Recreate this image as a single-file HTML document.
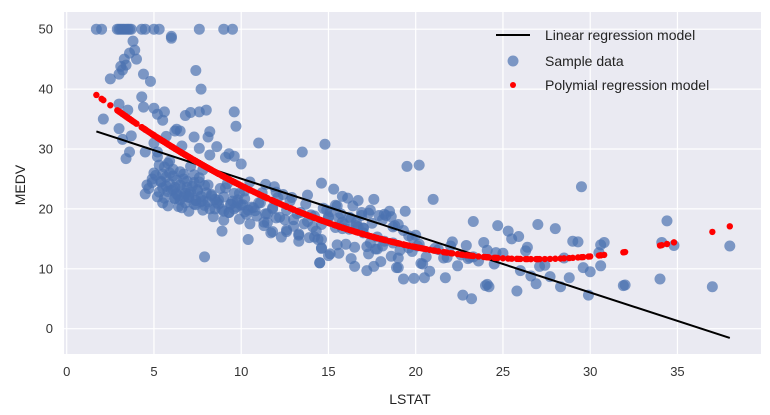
<!DOCTYPE html>
<html><head><meta charset="utf-8">
<style>
body{margin:0;background:#fff;}
svg{display:block;font-family:"Liberation Sans",sans-serif;}
</style></head>
<body>
<svg id="chart" width="770" height="415" viewBox="0 0 770 415" xmlns="http://www.w3.org/2000/svg">
<rect x="64" y="12" width="697" height="342" fill="#eaeaf2"/>
<g id="grid"></g>
<g id="ticks"></g>
<g id="points"></g>
<g id="fit"></g>
<g id="legend">
<line x1="496" y1="35" x2="530" y2="35" stroke="#000" stroke-width="2"/>
<text x="545" y="40" font-size="14" fill="#222">Linear regression model</text>
<circle cx="513" cy="61" r="5.5" fill="#4c72b0" fill-opacity="0.7"/>
<text x="545" y="66" font-size="14" fill="#222">Sample data</text>
<circle cx="513" cy="85" r="3" fill="#ff0000"/>
<text x="545" y="90" font-size="14" fill="#222">Polymial regression model</text>
</g>
<text x="410" y="404" font-size="14" text-anchor="middle" fill="#222">LSTAT</text>
<text x="25" y="185" font-size="14" text-anchor="middle" fill="#222" transform="rotate(-90 25 185)">MEDV</text>
</svg>
<script>
const xTicks=[0,5,10,15,20,25,30,35];
const yTicks=[0,10,20,30,40,50];
const lstat=[1.7,2.0,2.9,3.0,3.1,3.2,3.3,3.4,3.5,3.6,3.7,4.3,4.5,5.0,5.3,6.0,7.6,9.0,9.5,
6.0,3.8,3.9,3.6,3.3,3.4,3.1,4.0,4.4,2.5,3.2,3.0,4.8,4.3,7.4,7.7,
2.1,3.0,3.5,4.4,5.0,5.2,5.5,5.6,6.3,6.5,6.8,7.1,7.6,8.0,8.2,9.6,9.7,
3.0,3.2,3.7,3.6,3.4,4.5,5.0,5.2,5.7,6.2,6.6,7.3,7.6,8.1,8.2,8.6,9.1,9.3,9.6,10.0,
4.5,4.7,4.9,5.1,5.3,5.4,5.5,5.6,5.7,5.8,5.9,6.0,6.1,6.2,6.3,6.4,6.5,6.6,6.7,6.8,6.9,7.0,7.1,7.2,7.3,7.4,7.5,7.6,7.7,7.8,7.9,8.0,
5.0,5.3,5.6,5.9,6.2,6.5,6.8,7.0,7.3,7.6,7.9,8.3,8.5,8.7,8.9,9.1,9.3,9.5,9.7,9.9,10.1,10.3,10.5,10.7,10.9,11.1,
5.2,5.5,5.8,6.1,6.4,6.7,7.0,7.4,7.8,8.1,8.4,8.7,9.0,9.3,9.6,9.9,10.2,10.5,10.8,11.2,11.5,11.8,12.1,
7.9,8.9,10.4,11.5,12.0,12.3,12.6,13.0,13.3,13.5,13.8,14.1,14.4,14.6,14.8,15.1,15.3,15.6,15.9,16.1,16.4,16.7,17.0,17.3,17.6,17.9,18.2,18.5,18.8,
11.0,11.4,11.9,12.4,12.8,13.2,13.6,14.0,14.3,14.7,15.0,15.4,15.8,16.2,16.6,17.0,17.4,17.8,18.2,18.6,19.0,19.4,19.8,20.2,
11.3,11.8,12.5,13.3,14.5,14.6,15.0,15.5,16.0,16.5,16.9,17.3,17.8,18.3,18.7,19.1,19.6,20.1,20.6,21.1,21.6,22.1,22.6,23.1,23.6,24.1,24.6,
11.3,11.7,12.6,13.3,14.2,14.6,13.9,16.5,17.2,18.0,19.0,19.8,19.5,21.0,20.5,22.0,23.2,24.2,
14.5,15.1,15.5,16.7,17.2,17.7,18.1,18.6,19.9,20.3,20.8,21.3,21.8,22.4,23.0,24.0,24.5,25.0,25.5,26.0,26.6,27.1,27.7,28.3,28.8,29.5,30.0,30.5,
14.6,15.6,16.3,17.6,18.9,19.3,19.6,20.2,21.7,22.9,23.3,23.9,24.7,25.3,25.9,26.3,26.9,27.4,28.0,29.0,29.6,29.9,30.6,30.8,31.9,34.0,34.4,34.8,37.0,38.0,
15.8,17.4,19.0,20.4,22.7,23.3,24.1,25.8,26.4,27.0,28.5,29.3,30.6,32.0,34.1,
4.6,4.9,5.2,5.4,5.7,5.9,6.1,6.3,6.5,6.7,6.9,7.1,7.3,7.5,7.7,8.1,8.3,8.5,8.8,9.0,9.2,9.4,9.6,9.8,10.0,10.2,10.4,
5.5,5.8,6.2,6.6,7.0,7.4,7.8,8.2,8.6,9.0,9.4,9.8,10.2,10.6,11.0,11.4,11.8,12.2,12.6,13.0,13.4,13.8,14.2,14.6,15.0,15.4,15.8,16.2,16.6,17.0,
12.0,12.9,13.7,14.9,15.7,16.3,16.9,17.5,18.1,18.7,19.3,20.0];
const medv=[50,50,50,50,50,50,50,50,50,50,50,50,50,50,50,48.8,50,50,50,
48.5,48,46.5,46,45,44,43.8,45,42.5,41.7,43.2,42.5,41.3,38.7,43.1,40,
35,37.5,36.5,37,36.8,35.8,34.8,36.2,33.3,33,35.6,36.1,36.2,36.5,32.9,36.2,33.8,
33.4,31.6,32.2,29.5,28.4,29.5,31,29.5,32.1,33,30.5,32,30.1,32,29,30.4,28.6,29.2,28.8,27.5,
22.5,23.4,24.4,25.6,22.8,24.5,23.5,21.8,25.3,22.9,24.2,23.1,26.6,21.7,24.8,22.2,26.2,23.3,25,22.6,24.6,21.9,27.1,23.8,25.7,21.4,23,24.5,22.1,26.5,20.6,22.7,
26,27.3,27,28,23.6,21.5,21,22.4,20.8,25.2,23.9,22.2,20,21.5,19.9,23.5,19.4,21.3,20.3,22.6,20.7,19.1,24.5,20.2,18.8,21,
28.7,25.8,27.6,23.2,20.4,22,19.6,21.4,19.8,21.2,18.7,20.8,18.1,19.4,20,18.3,21.7,17.5,19.7,22.7,17.7,20.2,21.9,
12,16.3,14.9,19.2,18.5,15.3,16.5,17.1,15.6,29.5,22.3,17,14.9,24.3,30.8,19.5,23.3,18.5,17.4,21.8,20.5,17,16.8,19.3,21.6,18.9,19.1,19.6,17.2,
31,24.1,23.7,22.4,21.3,19.2,17.5,19,16.3,20.1,18.7,20.6,16.7,18.6,17.8,16.8,19.8,15.3,14.6,18.7,17.4,19.6,15.2,27.3,
17.8,16.2,18.2,15.8,11,13.4,12.2,20.5,14.1,13.6,19.4,12.5,13.3,18.9,14.3,13.1,15.5,13.8,12,13.4,11.8,14.5,12.3,11.9,11.3,13.1,12.7,
17.2,16,16.2,14.6,15.3,14.9,15.2,10.4,13.7,11.2,10.2,12.9,27.1,21.6,8.5,13.8,5,7,
11,12.5,14,21.4,9.7,13.3,13.8,12.1,8.4,10.9,9.6,13.2,11.9,10.5,11.7,7.2,10.8,12.6,15,9.7,8.8,10.4,8.7,7,8.5,23.7,9.5,12.7,
13.5,12.6,11.7,10.4,10.2,8.3,13.5,14.1,8.5,13.9,17.9,14.4,17.2,16.3,15.4,13,7.5,10.6,16.7,14.6,10.2,5.6,10.5,14.4,7.2,8.3,18,13.9,7,13.8,
22.1,14.3,11.8,10.8,5.6,12,7.4,6.3,13.6,17.4,11.8,14.5,14,7.3,14.4,
24,25,22,24.6,23.8,26,25.5,22.5,24,25.8,23.6,22.8,24.4,23.2,21.2,24,22.4,21.6,23.4,22,24.2,20.8,22.6,21,20.6,23,19.8,
21,20.5,21.8,20.2,22,20.7,21.4,20,21.1,19.6,20.8,21.5,19.5,20.3,21,19.2,20,18.6,19.8,18.2,19.4,17.9,18.8,17.4,18.5,16.9,17.8,16.6,17.2,16,
22.8,21.9,20.8,19.8,19.2,18.4,18.9,17.6,18.2,17,16.4,15.6];
const linCoef=[34.55,-0.95];
const polyCoef=[42.86,-2.333,0.04355];

const NS='http://www.w3.org/2000/svg';
const X0=66.7,XS=17.45,Y0=328.7,YS=5.99;
const xs=v=>X0+v*XS, ys=v=>Y0-v*YS;
function mk(tag,attrs,parent){const e=document.createElementNS(NS,tag);for(const k in attrs)e.setAttribute(k,attrs[k]);parent.appendChild(e);return e;}
const grid=document.getElementById('grid'),ticks=document.getElementById('ticks');
xTicks.forEach(t=>{
 const l=mk('line',{x1:xs(t),x2:xs(t),y1:12,y2:354,stroke:'#fff','stroke-width':1.2},grid);
 
 
 const tx=mk('text',{x:xs(t),y:376,'font-size':13,'text-anchor':'middle',fill:'#333'},ticks);
 tx.textContent=t;
 
 
});
yTicks.forEach(t=>{
 const l=mk('line',{x1:64,x2:761,y1:ys(t),y2:ys(t),stroke:'#fff','stroke-width':1.2},grid);
 
 
 const tx=mk('text',{x:53,y:ys(t)+4.5,'font-size':13,'text-anchor':'end',fill:'#333'},ticks);
 tx.textContent=t;
 
 
});
const pts=document.getElementById('points');
lstat.forEach((x,i)=>{
 const c=mk('circle',{cx:xs(x),cy:ys(medv[i]),r:5.5,fill:'#4c72b0','fill-opacity':0.7},pts);
 
 
});
const fit=document.getElementById('fit');
const xmin=Math.min(...lstat),xmax=Math.max(...lstat);
const ln=mk('line',{x1:xs(xmin),y1:ys(linCoef[0]+linCoef[1]*xmin),x2:xs(xmax),y2:ys(linCoef[0]+linCoef[1]*xmax),stroke:'#000','stroke-width':2},fit);


lstat.forEach(x=>{
 const y=polyCoef[0]+polyCoef[1]*x+polyCoef[2]*x*x;
 const c=mk('circle',{cx:xs(x),cy:ys(y),r:3.2,fill:'#ff0000'},fit);
 
 
});
</script>
</body></html>
